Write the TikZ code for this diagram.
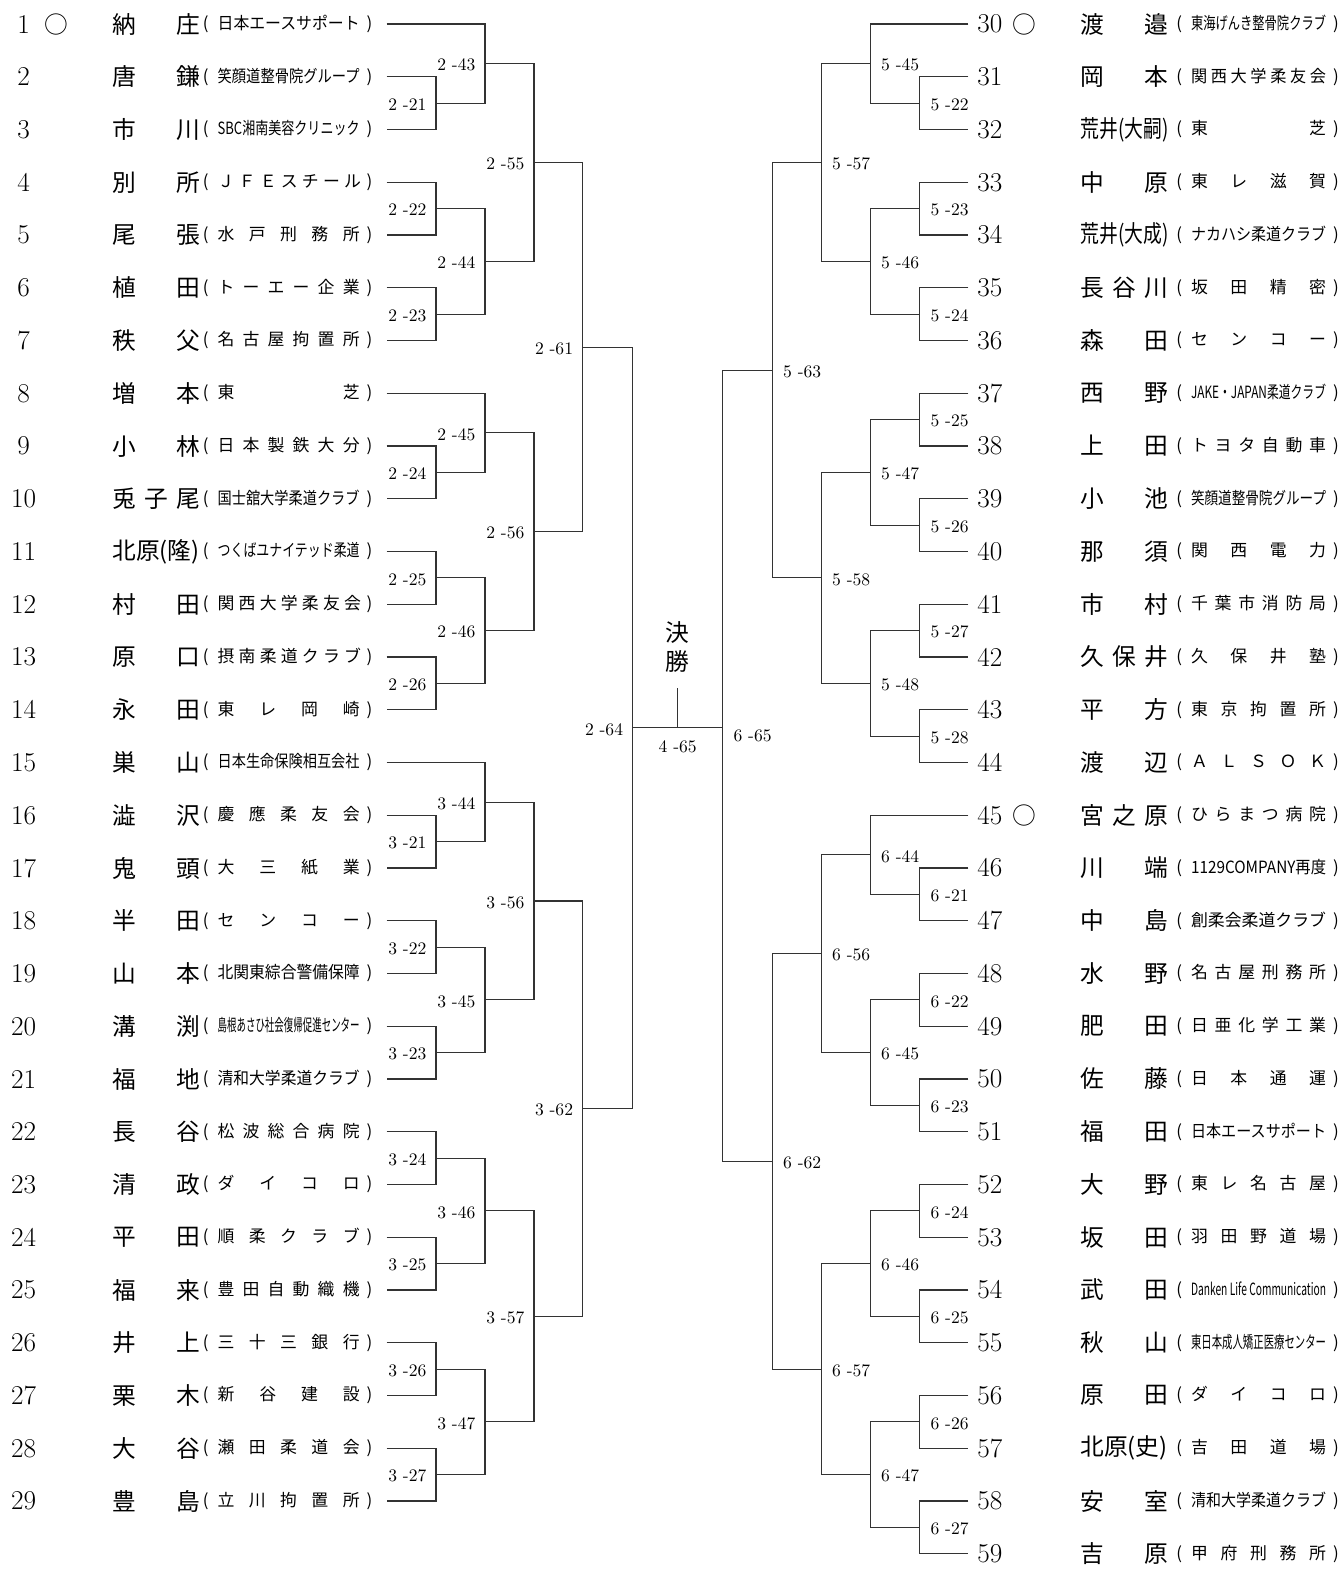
\documentclass[tikz,border=0pt]{standalone}
\usepackage{fontspec}
\usepackage{graphicx}
\usepackage{tikz}
\usetikzlibrary{calc}
\newfontfamily\jp{Noto Sans CJK JP}
\definecolor{brLine}{HTML}{333333}
\newlength\pxu \setlength\pxu{0.02cm}
\newsavebox\fitb
% squeeze a text into a width, or spread it over the width
\newcommand\fitbox[2]{\sbox\fitb{#2}%
  \ifdim\wd\fitb>#1\relax\resizebox{#1}{\height}{#2}%
  \else\makebox[#1][s]{\spaceskip=0.25em plus 1fil\relax#2}\fi}
% one entry, left half
\newcommand\lrow[3]{%
  \pgfmathsetmacro\rowy{24+(#1-1)*52.75}%
  \node[numtxt] (n#1) at (23.5,\rowy) {#1};
  \node[nmtxt, anchor=west] (p#1) at (112,\rowy) {\fitbox{88\pxu}{#2}};
  \node[afftxt, anchor=east] (a#1) at (386.7,\rowy)
    {(\hspace*{9\pxu}\fitbox{142\pxu}{#3}\hspace*{7\pxu})\hspace*{14\pxu}};
}
% one entry, right half
\newcommand\rrow[3]{%
  \pgfmathsetmacro\rowy{24+(#1-30)*52.75}%
  \node[numtxt, anchor=west, inner xsep=0.174cm] (n#1) at (968.3,\rowy) {#1};
  \node[nmtxt, anchor=west] (p#1) at (1080,\rowy) {\fitbox{88\pxu}{#2}};
  \node[afftxt, anchor=west] (a#1) at (1176,\rowy)
    {(\hspace*{9\pxu}\fitbox{135\pxu}{#3}\hspace*{7\pxu})};
}
% one bout: name, upper, lower, column, label, label style
\newcommand\match[6]{%
  \coordinate (#1) at ($(#2 -| #4)!0.5!(#3 -| #4)$);
  \draw[brk] (#2) -| (#1) |- (#3);
  \node[#6] (t#1) at (#1) {#5};
}

\begin{document}
\begin{tikzpicture}[
    x=0.02cm, y=-0.02cm,
    brk/.style={draw=brLine, line width=0.6pt},
    numtxt/.style={font=\fontsize{15.5}{16}\selectfont, inner sep=0pt},
    nmtxt/.style={font=\jp\fontsize{13.5}{17}\selectfont, inner sep=0pt},
    afftxt/.style={font=\jp\fontsize{9.6}{11}\selectfont, inner sep=0pt},
    ringmk/.style={font=\jp\fontsize{13.5}{14}\selectfont, inner sep=0pt},
    mlbl/.style={font=\fontsize{10}{11}\selectfont, inner sep=0pt},
    lblL/.style={mlbl, anchor=east, xshift=-0.186cm, yshift=-0.03cm},
    lblR/.style={mlbl, anchor=west, xshift=0.21cm, yshift=-0.03cm},
  ]
  \useasboundingbox (0,0) rectangle (1342,1572);
  % columns of the bracket
  \coordinate (xL1) at (436,0);
  \coordinate (xL2) at (485,0);
  \coordinate (xL3) at (534,0);
  \coordinate (xL4) at (582.7,0);
  \coordinate (xL5) at (632.7,0);
  \coordinate (xR1) at (919.7,0);
  \coordinate (xR2) at (870.3,0);
  \coordinate (xR3) at (821.3,0);
  \coordinate (xR4) at (772.3,0);
  \coordinate (xR5) at (722.7,0);
  % entries, left
  \lrow{1}{納 庄}{日本エースサポート}
  \lrow{2}{唐 鎌}{笑顔道整骨院グループ}
  \lrow{3}{市 川}{SBC湘南美容クリニック}
  \lrow{4}{別 所}{Ｊ Ｆ Ｅ ス チ ー ル}
  \lrow{5}{尾 張}{水 戸 刑 務 所}
  \lrow{6}{植 田}{ト ー エ ー 企 業}
  \lrow{7}{秩 父}{名 古 屋 拘 置 所}
  \lrow{8}{増 本}{東 芝}
  \lrow{9}{小 林}{日 本 製 鉄 大 分}
  \lrow{10}{兎 子 尾}{国士舘大学柔道クラブ}
  \lrow{11}{北原(隆)}{つくばユナイテッド柔道}
  \lrow{12}{村 田}{関 西 大 学 柔 友 会}
  \lrow{13}{原 口}{摂 南 柔 道 ク ラ ブ}
  \lrow{14}{永 田}{東 レ 岡 崎}
  \lrow{15}{巣 山}{日本生命保険相互会社}
  \lrow{16}{澁 沢}{慶 應 柔 友 会}
  \lrow{17}{鬼 頭}{大 三 紙 業}
  \lrow{18}{半 田}{セ ン コ ー}
  \lrow{19}{山 本}{北関東綜合警備保障}
  \lrow{20}{溝 渕}{島根あさひ社会復帰促進センター}
  \lrow{21}{福 地}{清和大学柔道クラブ}
  \lrow{22}{長 谷}{松 波 総 合 病 院}
  \lrow{23}{清 政}{ダ イ コ ロ}
  \lrow{24}{平 田}{順 柔 ク ラ ブ}
  \lrow{25}{福 来}{豊 田 自 動 織 機}
  \lrow{26}{井 上}{三 十 三 銀 行}
  \lrow{27}{栗 木}{新 谷 建 設}
  \lrow{28}{大 谷}{瀬 田 柔 道 会}
  \lrow{29}{豊 島}{立 川 拘 置 所}
  % entries, right
  \rrow{30}{渡 邉}{東海げんき整骨院クラブ}
  \rrow{31}{岡 本}{関 西 大 学 柔 友 会}
  \rrow{32}{荒井(大嗣)}{東 芝}
  \rrow{33}{中 原}{東 レ 滋 賀}
  \rrow{34}{荒井(大成)}{ナカハシ柔道クラブ}
  \rrow{35}{長 谷 川}{坂 田 精 密}
  \rrow{36}{森 田}{セ ン コ ー}
  \rrow{37}{西 野}{JAKE・JAPAN柔道クラブ}
  \rrow{38}{上 田}{ト ヨ タ 自 動 車}
  \rrow{39}{小 池}{笑顔道整骨院グループ}
  \rrow{40}{那 須}{関 西 電 力}
  \rrow{41}{市 村}{千 葉 市 消 防 局}
  \rrow{42}{久 保 井}{久 保 井 塾}
  \rrow{43}{平 方}{東 京 拘 置 所}
  \rrow{44}{渡 辺}{Ａ Ｌ Ｓ Ｏ Ｋ}
  \rrow{45}{宮 之 原}{ひ ら ま つ 病 院}
  \rrow{46}{川 端}{1129COMPANY再度}
  \rrow{47}{中 島}{創柔会柔道クラブ}
  \rrow{48}{水 野}{名 古 屋 刑 務 所}
  \rrow{49}{肥 田}{日 亜 化 学 工 業}
  \rrow{50}{佐 藤}{日 本 通 運}
  \rrow{51}{福 田}{日本エースサポート}
  \rrow{52}{大 野}{東 レ 名 古 屋}
  \rrow{53}{坂 田}{羽 田 野 道 場}
  \rrow{54}{武 田}{Danken Life Communication}
  \rrow{55}{秋 山}{東日本成人矯正医療センター}
  \rrow{56}{原 田}{ダ イ コ ロ}
  \rrow{57}{北原(史)}{吉 田 道 場}
  \rrow{58}{安 室}{清和大学柔道クラブ}
  \rrow{59}{吉 原}{甲 府 刑 務 所}
  % seeds
  \node[ringmk] (r1) at (56,24) {○};
  \node[ringmk] (r30) at (1024.5,24) {○};
  \node[ringmk] (r45) at (1024.5,815.25) {○};
  % bouts, left top
  \match{m221}{a2}{a3}{xL1}{2 -21}{lblL}
  \match{m243}{a1}{m221}{xL2}{2 -43}{lblL}
  \match{m222}{a4}{a5}{xL1}{2 -22}{lblL}
  \match{m223}{a6}{a7}{xL1}{2 -23}{lblL}
  \match{m244}{m222}{m223}{xL2}{2 -44}{lblL}
  \match{m255}{m243}{m244}{xL3}{2 -55}{lblL}
  \match{m224}{a9}{a10}{xL1}{2 -24}{lblL}
  \match{m245}{a8}{m224}{xL2}{2 -45}{lblL}
  \match{m225}{a11}{a12}{xL1}{2 -25}{lblL}
  \match{m226}{a13}{a14}{xL1}{2 -26}{lblL}
  \match{m246}{m225}{m226}{xL2}{2 -46}{lblL}
  \match{m256}{m245}{m246}{xL3}{2 -56}{lblL}
  \match{m261}{m255}{m256}{xL4}{2 -61}{lblL}
  % bouts, left bottom
  \match{m321}{a16}{a17}{xL1}{3 -21}{lblL}
  \match{m344}{a15}{m321}{xL2}{3 -44}{lblL}
  \match{m322}{a18}{a19}{xL1}{3 -22}{lblL}
  \match{m323}{a20}{a21}{xL1}{3 -23}{lblL}
  \match{m345}{m322}{m323}{xL2}{3 -45}{lblL}
  \match{m356}{m344}{m345}{xL3}{3 -56}{lblL}
  \match{m324}{a22}{a23}{xL1}{3 -24}{lblL}
  \match{m325}{a24}{a25}{xL1}{3 -25}{lblL}
  \match{m346}{m324}{m325}{xL2}{3 -46}{lblL}
  \match{m326}{a26}{a27}{xL1}{3 -26}{lblL}
  \match{m327}{a28}{a29}{xL1}{3 -27}{lblL}
  \match{m347}{m326}{m327}{xL2}{3 -47}{lblL}
  \match{m357}{m346}{m347}{xL3}{3 -57}{lblL}
  \match{m362}{m356}{m357}{xL4}{3 -62}{lblL}
  \match{m264}{m261}{m362}{xL5}{2 -64}{lblL}
  % bouts, right top
  \match{m522}{n31}{n32}{xR1}{5 -22}{lblR}
  \match{m545}{n30}{m522}{xR2}{5 -45}{lblR}
  \match{m523}{n33}{n34}{xR1}{5 -23}{lblR}
  \match{m524}{n35}{n36}{xR1}{5 -24}{lblR}
  \match{m546}{m523}{m524}{xR2}{5 -46}{lblR}
  \match{m557}{m545}{m546}{xR3}{5 -57}{lblR}
  \match{m525}{n37}{n38}{xR1}{5 -25}{lblR}
  \match{m526}{n39}{n40}{xR1}{5 -26}{lblR}
  \match{m547}{m525}{m526}{xR2}{5 -47}{lblR}
  \match{m527}{n41}{n42}{xR1}{5 -27}{lblR}
  \match{m528}{n43}{n44}{xR1}{5 -28}{lblR}
  \match{m548}{m527}{m528}{xR2}{5 -48}{lblR}
  \match{m558}{m547}{m548}{xR3}{5 -58}{lblR}
  \match{m563}{m557}{m558}{xR4}{5 -63}{lblR}
  % bouts, right bottom
  \match{m621}{n46}{n47}{xR1}{6 -21}{lblR}
  \match{m644}{n45}{m621}{xR2}{6 -44}{lblR}
  \match{m622}{n48}{n49}{xR1}{6 -22}{lblR}
  \match{m623}{n50}{n51}{xR1}{6 -23}{lblR}
  \match{m645}{m622}{m623}{xR2}{6 -45}{lblR}
  \match{m656}{m644}{m645}{xR3}{6 -56}{lblR}
  \match{m624}{n52}{n53}{xR1}{6 -24}{lblR}
  \match{m625}{n54}{n55}{xR1}{6 -25}{lblR}
  \match{m646}{m624}{m625}{xR2}{6 -46}{lblR}
  \match{m626}{n56}{n57}{xR1}{6 -26}{lblR}
  \match{m627}{n58}{n59}{xR1}{6 -27}{lblR}
  \match{m647}{m626}{m627}{xR2}{6 -47}{lblR}
  \match{m657}{m646}{m647}{xR3}{6 -57}{lblR}
  \match{m662}{m656}{m657}{xR4}{6 -62}{lblR}
  % final
  \coordinate (m665) at (m264 -| xR5);
  \draw[brk] (m563) -| (m665) |- (m662);
  \draw[brk] (m264) -- (m665);
  \node[lblR, yshift=-0.12cm] (t665) at (m665) {6 -65};
  \coordinate (fin) at ($(m264)!0.5!(m665)$);
  \draw[brk] (fin) -- ++(0,-40);
  \node[mlbl] (t465) at ($(fin)+(0,19)$) {4 -65};
  \node[nmtxt, align=center] (kessho) at (677.7,647) {決\\勝};
\end{tikzpicture}
\end{document}
